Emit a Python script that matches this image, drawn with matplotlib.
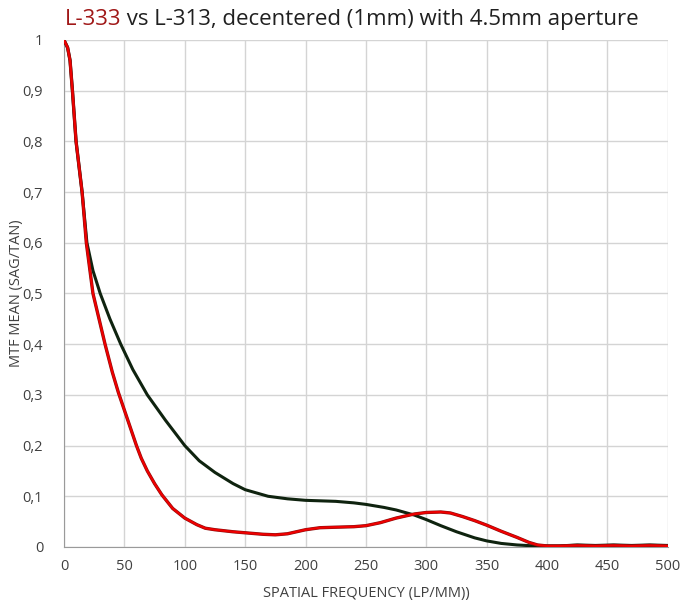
import numpy as np
import matplotlib
matplotlib.use("Agg")
import matplotlib.pyplot as plt
from matplotlib.ticker import FixedLocator, FixedFormatter

# values
freq_333 = [0, 3, 5, 7, 10, 15, 18.5, 24, 29, 34, 40, 45, 50, 55, 60, 64, 69, 75, 81, 90,
            100, 110, 117, 125, 140, 150, 165, 175, 185, 200, 212, 225, 240, 250, 262,
            275, 290, 300, 312, 320, 330, 340, 350, 362, 375, 385, 392, 400, 410, 425,
            440, 455, 470, 485, 500]
mtf_333 = [1.0, 0.985, 0.96, 0.9, 0.8, 0.7, 0.6, 0.5, 0.45, 0.4, 0.345, 0.305, 0.27, 0.235,
           0.2, 0.175, 0.15, 0.125, 0.103, 0.076, 0.057, 0.044, 0.037, 0.034, 0.03, 0.028,
           0.025, 0.024, 0.026, 0.034, 0.038, 0.039, 0.04, 0.042, 0.048, 0.057, 0.065,
           0.068, 0.069, 0.067, 0.06, 0.052, 0.043, 0.031, 0.019, 0.009, 0.004, 0.002,
           0.002, 0.003, 0.002, 0.003, 0.002, 0.003, 0.002]

freq_313 = [0, 3, 5, 7, 10, 15, 19, 24, 30, 38, 47, 57, 69, 84, 100, 112, 125, 140, 150,
            169, 185, 200, 225, 240, 250, 265, 275, 290, 300, 312, 325, 340, 350, 362,
            375, 390, 400, 410, 425, 440, 455, 470, 485, 500]
mtf_313 = [1.0, 0.985, 0.96, 0.9, 0.8, 0.7, 0.6, 0.545, 0.5, 0.45, 0.4, 0.35, 0.3, 0.25,
           0.2, 0.17, 0.147, 0.125, 0.113, 0.1, 0.095, 0.092, 0.09, 0.087, 0.084, 0.078,
           0.073, 0.063, 0.054, 0.042, 0.03, 0.018, 0.012, 0.007, 0.004, 0.002, 0.002,
           0.002, 0.004, 0.003, 0.004, 0.003, 0.004, 0.003]

xticks = [0, 50, 100, 150, 200, 250, 300, 350, 400, 450, 500]
yticks = [0, 0.1, 0.2, 0.3, 0.4, 0.5, 0.6, 0.7, 0.8, 0.9, 1.0]
ylabels = ['0', '0,1', '0,2', '0,3', '0,4', '0,5', '0,6', '0,7', '0,8', '0,9', '1']

plt.rcParams['font.family'] = ['Open Sans', 'DejaVu Sans']

fig = plt.figure(figsize=(6.85, 6.06), dpi=100)
ax = fig.add_axes([0.0934, 0.0974, 0.8816, 0.8366])

ax.plot(freq_313, mtf_313, color='#0f230f', lw=2.2, zorder=3, solid_joinstyle='round')
# red line drawn twice: dark edge + bright core, like the source image
ax.plot(freq_333, mtf_333, color='#8a0d0d', lw=2.4, zorder=4, solid_joinstyle='round')
ax.plot(freq_333, mtf_333, color='#ee0000', lw=1.6, zorder=5, solid_joinstyle='round')

ax.set_xlim(0, 500)
ax.set_ylim(0, 1)
ax.xaxis.set_major_locator(FixedLocator(xticks))
ax.yaxis.set_major_locator(FixedLocator(yticks))
ax.yaxis.set_major_formatter(FixedFormatter(ylabels))
ax.grid(True, color='#d4d4d4', lw=1.0)
ax.set_axisbelow(True)
for s in ['top', 'right']:
    ax.spines[s].set_visible(False)
for s in ['left', 'bottom']:
    ax.spines[s].set_color('#9a9a9a')
ax.tick_params(length=0, labelsize=10.5, colors='#404040')
ax.tick_params(axis='y', pad=15)
ax.tick_params(axis='x', pad=9)

ax.set_xlabel('SPATIAL FREQUENCY (LP/MM))', fontsize=10.5, color='#404040', labelpad=8)
ax.set_ylabel('MTF MEAN (SAG/TAN)', fontsize=10.5, color='#404040')
ax.yaxis.set_label_coords(-0.066, 0.5)

t1 = fig.text(0.094, 0.958, 'L-333', fontsize=16, color='#a01818', va='baseline')
ax.annotate(' vs L-313, decentered (1mm) with 4.5mm aperture', xy=(1, 0), xycoords=t1,
            fontsize=16, color='#202020', va='bottom')

fig.savefig('out.png', dpi=100)
